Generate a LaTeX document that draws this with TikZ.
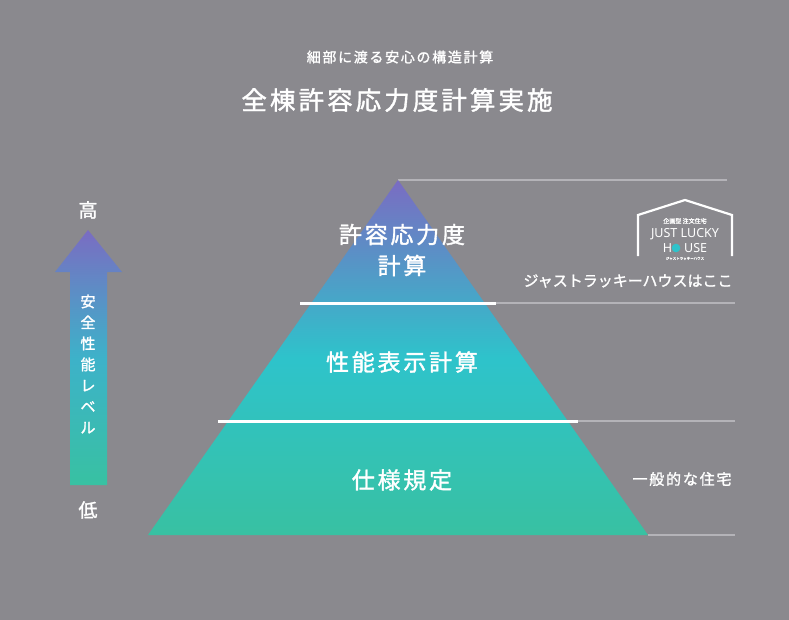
\documentclass[tikz,border=0pt]{standalone}
\usepackage{fontspec}
\setmainfont{Noto Sans CJK JP}[FakeBold=1.5]
\newfontfamily\spcjk{Noto Sans CJK JP}[LetterSpace=12,FakeBold=1.5]
\newfontfamily\latf{Noto Sans}
\definecolor{bg}{HTML}{8A898E}
\definecolor{tpurple}{HTML}{7A6CC2}
\definecolor{tcyan}{HTML}{2EC3CB}
\definecolor{tgreen}{HTML}{38C1A2}
\definecolor{glin}{HTML}{B4B3B8}
\begin{document}
\begin{tikzpicture}[x=1pt,y=-1pt,
  txt/.style={text=white,inner sep=0pt},
  gline/.style={draw=glin,line width=2.2pt},
  sep/.style={draw=white,line width=3pt}]
\fill[bg] (0,0) rectangle (789,620);
\useasboundingbox (0,0) rectangle (789,620);
\node[txt,font=\spcjk\fontsize{14}{16}\selectfont] (sub) at (400,57) {細部に渡る安心の構造計算};
\node[txt,font=\spcjk\fontsize{25.5}{28}\selectfont] (title) at (397,100) {全棟許容応力度計算実施};
% gray lines
\draw[gline] (398,180) -- (727,180);
\draw[gline] (487,303) -- (735,303);
\draw[gline] (567,421) -- (735,421);
\draw[gline] (648,535) -- (735,535);
% pyramid
\begin{scope}
\clip (398,180) -- (648,535) -- (148,535) -- cycle;
\shade[top color=tpurple,bottom color=tgreen,middle color=tcyan] (148,180) rectangle (648,535);
\end{scope}
\draw[sep] (300,303) -- (496,303);
\draw[sep] (218,421) -- (578,421);
\node[txt,font=\spcjk\fontsize{23}{31}\selectfont,align=center] (l1) at (402,250) {許容応力度\\計算};
\node[txt,font=\spcjk\fontsize{23}{28}\selectfont] (l2) at (402,362) {性能表示計算};
\node[txt,font=\spcjk\fontsize{23}{28}\selectfont] (l3) at (402,480) {仕様規定};
% arrow
\shade[top color=tpurple,bottom color=tgreen,middle color=tcyan!80!tpurple]
 (88,230) -- (122,272) -- (107,272) -- (107,485) -- (70,485) -- (70,272) -- (55,272) -- cycle;
\node[txt,font=\fontsize{19}{22}\selectfont] (hi) at (88,210) {高};
\node[txt,font=\fontsize{19}{22}\selectfont] (lo) at (88,510) {低};
\node[txt,font=\fontsize{15}{21}\selectfont,align=center] (lv) at (88,364) {安\\全\\性\\能\\レ\\ベ\\ル};
% logo
\draw[white,line width=2.2pt] (638,256) -- (638,215) -- (685,200) -- (732,215) -- (732,256);
\node[txt,font=\fontsize{6}{8}\selectfont] (lg1) at (685,221) {企画型 注文住宅};
\node[txt,font=\latf\fontsize{12.5}{15}\selectfont] (lg2) at (685,234) {JUST LUCKY};
\node[txt,font=\latf\fontsize{12.5}{15}\selectfont] (lg3) at (685,248) {H\hspace{12pt}USE};
\fill[tcyan] (676,248) circle (4.3);
\node[txt,font=\fontsize{3.5}{4}\selectfont] (lg4) at (685,258.5) {ジャストラッキーハウス};
\node[txt,font=\fontsize{15}{17}\selectfont] (jl) at (628,281) {ジャストラッキーハウスはここ};
\node[txt,font=\spcjk\fontsize{15}{17}\selectfont] (ip) at (682,479) {一般的な住宅};
\end{tikzpicture}
\end{document}
